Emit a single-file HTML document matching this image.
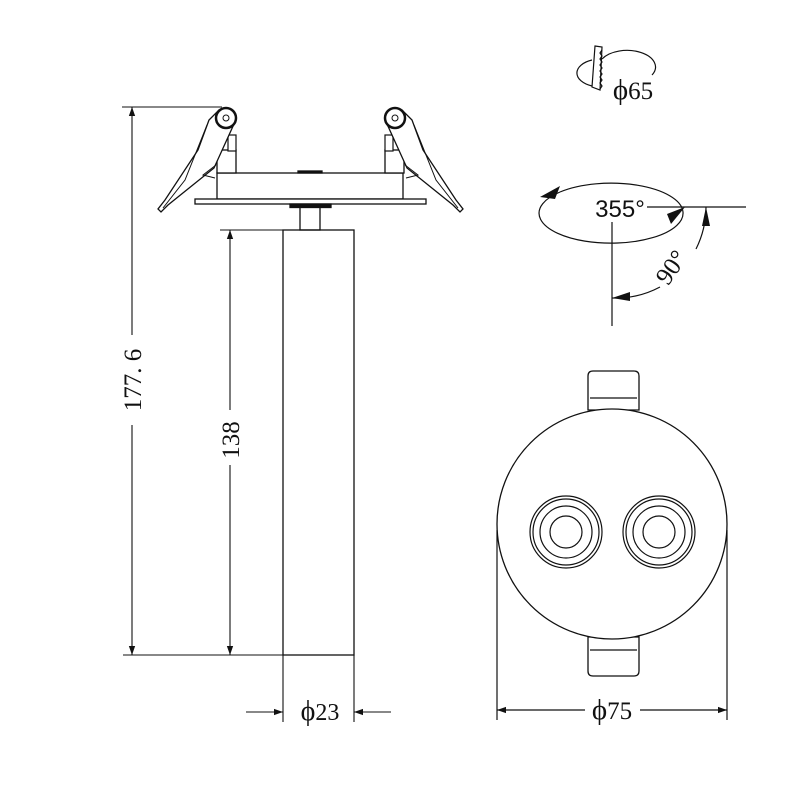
<!DOCTYPE html>
<html><head><meta charset="utf-8"><style>
html,body{margin:0;padding:0;background:#fff;}
svg{display:block;}
text{font-family:"Liberation Serif",serif;fill:#111;}
</style></head><body>
<svg width="800" height="800" viewBox="0 0 800 800" xmlns="http://www.w3.org/2000/svg">
<defs>
<marker id="a" viewBox="0 0 10 10" refX="10" refY="5" markerWidth="14" markerHeight="9" orient="auto-start-reverse" markerUnits="userSpaceOnUse"><path d="M0,1.5 L10,5 L0,8.5 z" fill="#111"/></marker>
<marker id="b" viewBox="0 0 10 10" refX="10" refY="5" markerWidth="20" markerHeight="9" orient="auto-start-reverse" markerUnits="userSpaceOnUse"><path d="M0,1.5 L10,5 L0,8.5 z" fill="#111"/></marker>
<g id="clip">
  <rect x="217" y="150" width="19" height="23" fill="#fff" stroke="#111" stroke-width="1.3"/>
  <rect x="228" y="135" width="8" height="16" fill="#fff" stroke="#111" stroke-width="1.2"/>
  <path d="M219,110 L234,124 L214,168 L168,205 L161,212 L158,209 L165,200 L198,150 L209,120 Z" fill="#fff" stroke="#111" stroke-width="1.3"/>
  <path d="M207,125 L185,180 L163,208" fill="none" stroke="#111" stroke-width="1"/>
  <path d="M216,165 L203,175 L215,178" fill="none" stroke="#111" stroke-width="1"/>
  <circle cx="226" cy="118" r="10" fill="#fff" stroke="#111" stroke-width="2.5"/>
  <circle cx="226" cy="118" r="3" fill="none" stroke="#111" stroke-width="1"/>
</g>
</defs>
<g fill="none" stroke="#111" stroke-width="1.3">
  <rect x="217" y="173" width="186" height="26" fill="#fff"/>
  <rect x="195" y="199" width="231" height="5" fill="#fff"/>
  <rect x="298" y="171" width="24" height="2" fill="#111"/>
  <rect x="290" y="204" width="41" height="3.5" fill="#111"/>
  <rect x="300" y="207" width="20" height="23"/>
  <rect x="283" y="230" width="71" height="425"/>
</g>
<use href="#clip"/>
<use href="#clip" transform="translate(621,0) scale(-1,1)"/>
<g fill="none" stroke="#111" stroke-width="1.1">
  <line x1="122" y1="107" x2="222" y2="107"/>
  <line x1="123" y1="655" x2="283" y2="655"/>
  <line x1="132" y1="107" x2="132" y2="335" marker-start="url(#b)"/>
  <line x1="132" y1="425" x2="132" y2="655" marker-end="url(#b)"/>
  <line x1="220" y1="230" x2="283" y2="230"/>
  <line x1="230" y1="230" x2="230" y2="410" marker-start="url(#b)"/>
  <line x1="230" y1="465" x2="230" y2="655" marker-end="url(#b)"/>
  <line x1="283" y1="655" x2="283" y2="722"/>
  <line x1="354" y1="655" x2="354" y2="722"/>
  <line x1="246" y1="712" x2="283" y2="712" marker-end="url(#a)"/>
  <line x1="391" y1="712" x2="354" y2="712" marker-end="url(#a)"/>
</g>
<text x="132" y="389" font-size="25" text-anchor="middle" transform="rotate(-90 132 380)">177. 6</text>
<text x="230" y="449" font-size="25" text-anchor="middle" transform="rotate(-90 230 440)">138</text>
<text x="320" y="720" font-size="24" text-anchor="middle"><tspan font-size="28">ϕ</tspan>23</text>

<g fill="#fff" stroke="#111" stroke-width="1.3">
  <path d="M588,410 L588,376 Q588,371 593,371 L634,371 Q639,371 639,376 L639,410 Z"/>
  <line x1="590" y1="398" x2="637" y2="398"/>
  <path d="M588,637 L588,671 Q588,676 593,676 L634,676 Q639,676 639,671 L639,637 Z"/>
  <line x1="590" y1="650" x2="637" y2="650"/>
  <circle cx="612" cy="524" r="115"/>
</g>
<g fill="none" stroke="#111" stroke-width="1.2">
  <circle cx="566" cy="532" r="36"/><circle cx="566" cy="532" r="33"/><circle cx="566" cy="532" r="26"/><circle cx="566" cy="532" r="16"/>
  <circle cx="659" cy="532" r="36"/><circle cx="659" cy="532" r="33"/><circle cx="659" cy="532" r="26"/><circle cx="659" cy="532" r="16"/>
  <line x1="497" y1="530" x2="497" y2="720"/>
  <line x1="727" y1="530" x2="727" y2="720"/>
  <line x1="585" y1="710" x2="497" y2="710" marker-end="url(#b)"/>
  <line x1="640" y1="710" x2="727" y2="710" marker-end="url(#b)"/>
</g>
<text x="612" y="719" font-size="25" text-anchor="middle"><tspan font-size="29">ϕ</tspan>75</text>

<g fill="none" stroke="#111" stroke-width="1.2">
  <path d="M560,192 A72,30 0 0 1 683,212" />
  <path d="M683,212 A72,30 0 1 1 560,192" />
  <line x1="647" y1="207" x2="746" y2="207"/>
  <line x1="612" y1="222" x2="612" y2="326"/>
  <path d="M706,207 A94,94 0 0 1 696,249"/>
  <path d="M660,287 A94,94 0 0 1 612,298"/>
</g>
<path d="M540,197 L560,186 L555,199 Z" fill="#111"/>
<path d="M685,207 L671,224 L667,214 Z" fill="#111"/>
<path d="M706,207 L710,226 L702,226 Z" fill="#111"/>
<path d="M612,298 L630,292 L630,301 Z" fill="#111"/>
<text x="620" y="217" font-size="24" text-anchor="middle" style="font-family:'Liberation Sans',sans-serif">355°</text>
<text x="678" y="272" font-size="25" text-anchor="middle" transform="rotate(-55 678 272)">90°</text>

<g fill="none" stroke="#111" stroke-width="1.2">
  <path d="M592,86 A24,14 0 0 1 592,60"/>
  <path d="M602,59 A24,14 0 0 1 652,75"/>
  <path d="M595,46 L602,47 L600,90 L592,87 Z" fill="#fff"/>
  <path d="M602,50 l-2,3 l2,3 l-2,3 l2,3 l-2,3 l2,3 l-2,3 l2,3 l-2,3 l2,3 l-2,3 l2,3 l-2,3"/>
</g>
<text x="633" y="99" font-size="25" text-anchor="middle"><tspan font-size="29">ϕ</tspan>65</text>
</svg>
</body></html>
